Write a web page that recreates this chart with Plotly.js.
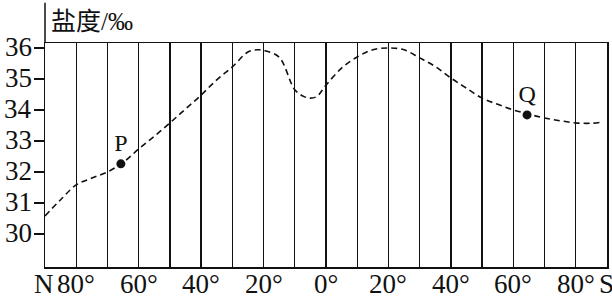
<!DOCTYPE html>
<html>
<head>
<meta charset="utf-8">
<script src="https://cdn.plot.ly/plotly-3.0.1.min.js"></script>
<style>html,body{margin:0;padding:0;background:#fff;}#chart{width:612px;height:296px;}</style>
</head>
<body>
<div id="chart"></div>
<script>
// Latitude: positive = N, negative = S
const latitude = [90, 85, 80, 75, 70, 65, 60, 55, 50, 45, 40, 35, 30, 25, 22, 20, 15, 10, 7, 5, 3, 0, -5, -10, -15, -20, -25, -30, -35, -40, -45, -50, -55, -60, -65, -70, -75, -80, -85, -88];
const salinity = [30.58, 31.1, 31.58, 31.8, 32.0, 32.3, 32.74, 33.15, 33.58, 34.03, 34.48, 34.97, 35.39, 35.87, 35.94, 35.92, 35.7, 34.65, 34.43, 34.38, 34.43, 34.8, 35.35, 35.71, 35.94, 36.0, 35.94, 35.68, 35.4, 35.03, 34.7, 34.38, 34.18, 34.0, 33.86, 33.74, 33.65, 33.58, 33.57, 33.6];
const pointNames = ["P", "Q"];
const pointLat = [65.7, -64.4];
const pointSal = [32.26, 33.84];
const gridLat = [90, 80, 70, 60, 50, 40, 30, 20, 10, 0, -10, -20, -30, -40, -50, -60, -70, -80, -90];
const labelLat = [90, 80, 60, 40, 20, 0, -20, -40, -60, -80, -90];
const labelText = ["N", "80°", "60°", "40°", "20°", "0°", "20°", "40°", "60°", "80°", "S"];
const yTicks = [30, 31, 32, 33, 34, 35, 36];
const yTickText = ["30", "31", "32", "33", "34", "35", "36"];
const yTitle = "盐度/‰";

const serif = "Liberation Serif, Times New Roman, Noto Sans CJK SC, serif";
const labelFont = {family: serif, size: 27, color: "#111"};

const traces = [
  {
    x: latitude, y: salinity, type: "scatter", mode: "lines",
    line: {color: "#111", width: 1.6, dash: "6px,4px", shape: "spline", smoothing: 1},
    hoverinfo: "skip"
  },
  {
    x: pointLat, y: pointSal, type: "scatter", mode: "markers+text",
    marker: {color: "#111", size: 9},
    text: pointNames, textposition: "top center",
    textfont: {family: serif, size: 24, color: "#111"},
    hoverinfo: "skip"
  }
];

const annotations = [
  {text: yTitle, xref: "paper", yref: "paper", x: 0, y: 1, xanchor: "left", yanchor: "middle",
   xshift: 4, yshift: 22, showarrow: false,
   font: {family: serif, size: 25, color: "#111"}}
];
labelLat.forEach((lat, i) => {
  let anchor = "center", shift = 0;
  if (labelText[i] === "N") { anchor = "center"; shift = -1; }
  if (labelText[i] === "S") { anchor = "center"; shift = -1; }
  annotations.push({
    text: labelText[i], xref: "x", yref: "paper", x: lat, y: 0,
    xanchor: anchor, yanchor: "middle", xshift: shift, yshift: -17,
    showarrow: false, font: labelFont
  });
});
yTicks.forEach((v, i) => {
  annotations.push({
    text: yTickText[i], xref: "paper", yref: "y", x: 0, y: v,
    xanchor: "right", yanchor: "middle", xshift: -11, yshift: 1,
    showarrow: false, font: labelFont
  });
});

const layout = {
  width: 612, height: 296,
  margin: {l: 45, r: 5, t: 43, b: 29},
  paper_bgcolor: "#fff", plot_bgcolor: "#fff",
  showlegend: false,
  font: {family: serif, color: "#111"},
  xaxis: {
    range: [90, -90],
    tickvals: gridLat, showticklabels: false,
    showgrid: true, gridcolor: "#111", gridwidth: 1.4,
    zeroline: false,
    showline: true, linecolor: "#111", linewidth: 1.5, mirror: true,
    ticks: ""
  },
  yaxis: {
    range: [28.93, 36.16],
    tickvals: yTicks, showticklabels: false,
    showgrid: false, zeroline: false,
    showline: true, linecolor: "#111", linewidth: 1.5, mirror: true,
    ticks: "outside", ticklen: 10, tickwidth: 1.5, tickcolor: "#111"
  },
  shapes: [
    {type: "line", xref: "paper", yref: "paper", x0: 0, x1: 0, y0: 1, y1: 1.18,
     line: {color: "#111", width: 1.5}}
  ],
  annotations: annotations
};

Plotly.newPlot("chart", traces, layout, {displayModeBar: false, staticPlot: true});
</script>
</body>
</html>
